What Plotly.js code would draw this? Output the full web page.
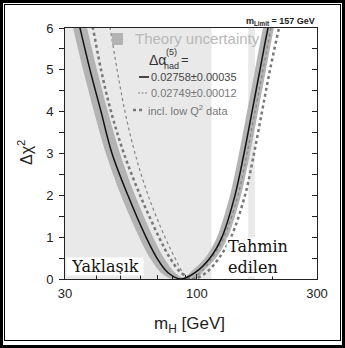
<!DOCTYPE html>
<html>
<head>
<meta charset="utf-8">
<script src="https://cdn.plot.ly/plotly-3.0.1.min.js"></script>
<style>
html,body{margin:0;padding:0;background:#fff;}
#wrap{position:relative;width:345px;height:348px;}
#plot{position:absolute;left:0;top:0;width:345px;height:348px;}
.f1{position:absolute;left:0;top:0;width:339px;height:342px;border:3px solid #000;pointer-events:none;}
.f2{position:absolute;left:4px;top:4px;width:335px;height:335px;border:1px solid #000;pointer-events:none;}
</style>
</head>
<body>
<div id="wrap"><div id="plot"></div><div class="f1"></div><div class="f2"></div></div>
<script>
// Excluded / limit regions (GeV)
const lepExcl = [30, 114.4];
const tevExcl = [160, 170];

// Delta chi^2 levels used for curve readings
const chiLevels = [6.3, 6, 5, 4, 3, 2, 1, 0.5, 0.15, 0, 0.15, 0.5, 1, 2, 3, 4, 5, 6, 6.3];

// Solid: 0.02758±0.00035
const mH_solid = [33.5, 34.4, 37.7, 41.7, 46.1, 53.3, 62.9, 69.5, 76.9, 86.6, 98.4, 112.9, 125.9, 141.8, 154.0, 165.7, 178.2, 191.7, 197.1];
// Dashed: 0.02749±0.00012
const mH_dash = [44.4, 45.3, 48.3, 51.9, 56.9, 64.1, 74.8, 82.0, 88.2, 94.9, 103.0, 114.9, 128.2, 145.8, 158.3, 170.3, 183.2, 197.1, 202.5];
// Dotted: incl. low Q^2 data
const mH_lowQ2 = [37.7, 38.7, 41.7, 45.7, 51.4, 59.6, 70.8, 78.3, 86.6, 96.7, 108.8, 122.5, 136.7, 155.4, 168.7, 181.5, 195.3, 212.0, 217.9];

// Theory uncertainty band edges
const bandOuterM = [31.4, 32.3, 35.4, 39.1, 43.6, 50.0, 59.0, 65.2, 72.1, 79.8, 100.2, 104.9, 119.2, 133.0, 149.8, 162.7, 175.0, 188.3, 202.5, 208.2];
const bandOuterChi = [6.3, 6, 5, 4, 3, 2, 1, 0.5, 0.15, 0, 0, 0.15, 0.5, 1, 2, 3, 4, 5, 6, 6.3];
const bandInnerM = [35.7, 36.7, 40.2, 44.4, 49.6, 56.9, 67.1, 74.1, 82.0, 89.0, 94.0, 107.8, 120.3, 135.5, 147.1, 158.3, 170.3, 183.2, 188.3];
const bandInnerChi = [6.3, 6, 5, 4, 3, 2, 1, 0.5, 0.15, 0.03, 0.15, 0.5, 1, 2, 3, 4, 5, 6, 6.3];

const xTicks = [30, 100, 300];
const xMinor = [40, 50, 60, 70, 80, 90, 200];

const W = 345, H = 348, L = 65, R = 317, T = 28, B = 279;
const px = v => (v - L) / (R - L);
const py = v => (B - v) / (B - T);

const FONT = 'Liberation Sans, Arial, Helvetica, sans-serif';
const SERIF = 'DejaVu Serif, serif';

const rect = (r) => ({x: [r[0], r[0], r[1], r[1]], y: [0, 6, 6, 0], type: 'scatter', mode: 'lines',
  fill: 'toself', fillcolor: '#e9e9e9', line: {width: 0}, hoverinfo: 'skip', showlegend: false});

const traces = [
  rect(lepExcl),
  rect(tevExcl),
  {x: bandOuterM.concat(bandInnerM.slice().reverse()), y: bandOuterChi.concat(bandInnerChi.slice().reverse()),
   type: 'scatter', mode: 'lines', fill: 'toself', fillcolor: '#b3b3b3', line: {width: 0, shape: 'spline', smoothing: 0.8},
   hoverinfo: 'skip', showlegend: false},
  {x: mH_dash, y: chiLevels, type: 'scatter', mode: 'lines', line: {color: '#858585', width: 1.2, dash: 'dot', shape: 'spline', smoothing: 1}, showlegend: false},
  {x: mH_lowQ2, y: chiLevels, type: 'scatter', mode: 'lines', line: {color: '#777', width: 2.5, dash: 'dot', shape: 'spline', smoothing: 1}, showlegend: false},
  {x: mH_solid, y: chiLevels, type: 'scatter', mode: 'lines', line: {color: '#111', width: 1.5, shape: 'spline', smoothing: 1}, showlegend: false},
  {x: [30], y: [null], yaxis: 'y2', type: 'scatter', mode: 'lines', showlegend: false, hoverinfo: 'skip'}
];

const ann = (o) => Object.assign({xref: 'paper', yref: 'paper', showarrow: false}, o);

const layout = {
  width: W, height: H,
  margin: {l: L, r: W - R, t: T, b: H - B},
  paper_bgcolor: '#fff', plot_bgcolor: '#fff',
  font: {family: FONT, color: '#222', size: 13},
  xaxis: {type: 'log', range: [Math.log10(30), Math.log10(300)], tickvals: xTicks, ticktext: xTicks.map(String),
    ticks: 'inside', ticklen: 5, tickcolor: '#222', showline: true, linecolor: '#222', linewidth: 1, mirror: true,
    showgrid: false, zeroline: false, ticklabelstandoff: 2, tickfont: {size: 13, color: '#222'},
    minor: {tickmode: 'array', tickvals: xMinor, ticks: 'inside', ticklen: 4, tickcolor: '#222', showgrid: false}},
  yaxis: {range: [0, 6], dtick: 1, ticks: 'outside', ticklen: 5, tickcolor: '#222', showline: true, linecolor: '#222',
    linewidth: 1, mirror: true, showgrid: false, zeroline: false, ticklabelstandoff: 3, tickfont: {size: 13, color: '#222'},
    minor: {dtick: 0.5, ticks: 'outside', ticklen: 5, tickcolor: '#222', showgrid: false}},
  yaxis2: {range: [0, 6], overlaying: 'y', side: 'right', dtick: 0.5, ticks: 'inside', ticklen: 5, tickcolor: '#222',
    showticklabels: false, showgrid: false, zeroline: false, showline: false},
  shapes: [
    {type: 'rect', xref: 'paper', yref: 'paper', x0: px(112), x1: px(123), y0: py(45), y1: py(33), fillcolor: '#b3b3b3', line: {width: 0}},
    {type: 'line', xref: 'paper', yref: 'paper', x0: px(139), x1: px(149), y0: py(77), y1: py(77), line: {color: '#111', width: 1.5}},
    {type: 'line', xref: 'paper', yref: 'paper', x0: px(138), x1: px(148), y0: py(93), y1: py(93), line: {color: '#858585', width: 1, dash: '2px,1.5px'}},
    {type: 'line', xref: 'paper', yref: 'paper', x0: px(133), x1: px(145), y0: py(110), y1: py(110), line: {color: '#777', width: 2.5, dash: 'dot'}}
  ],
  annotations: [
    ann({x: px(133), y: py(39), xanchor: 'left', yanchor: 'middle', text: 'Theory uncertainty', font: {size: 15, color: '#b8b8b8'}}),
    ann({x: px(147), y: py(60), xanchor: 'left', yanchor: 'middle', text: 'Δα', font: {size: 14, color: '#333'}}),
    ann({x: px(164), y: py(52), xanchor: 'left', yanchor: 'middle', text: '(5)', font: {size: 9, color: '#333'}}),
    ann({x: px(162), y: py(66), xanchor: 'left', yanchor: 'middle', text: 'had', font: {size: 9, color: '#333'}}),
    ann({x: px(179), y: py(59), xanchor: 'left', yanchor: 'middle', text: '=', font: {size: 13, color: '#333'}}),
    ann({x: px(149), y: py(77), xanchor: 'left', yanchor: 'middle', text: '0.02758±0.00035', font: {size: 11, color: '#444'}}),
    ann({x: px(149), y: py(93), xanchor: 'left', yanchor: 'middle', text: '0.02749±0.00012', font: {size: 11, color: '#777'}}),
    ann({x: px(146), y: py(110), xanchor: 'left', yanchor: 'middle', text: 'incl. low Q<sup>2</sup> data', font: {size: 11, color: '#777'}}),
    ann({x: 1, y: py(21), xanchor: 'right', yanchor: 'middle', text: '<b>m<sub>Limit</sub> = 157 GeV</b>', font: {size: 9, color: '#222'}}),
    ann({x: px(105), y: py(266.5), xanchor: 'center', yanchor: 'middle', text: 'Yaklaşık', width: 74, height: 15,
      bgcolor: '#fff', font: {family: SERIF, size: 16, color: '#111'}}),
    ann({x: px(259.5), y: py(257), xanchor: 'center', yanchor: 'middle', text: 'Tahmin<br>edilen', align: 'left', width: 63, height: 36,
      bgcolor: '#fff', font: {family: SERIF, size: 16, color: '#111'}}),
    ann({x: px(25), y: py(153), xanchor: 'center', yanchor: 'middle', textangle: -90, text: 'Δχ<sup>2</sup>', font: {size: 16, color: '#222'}}),
    ann({x: px(189), y: py(325), xanchor: 'center', yanchor: 'middle', text: 'm<sub>H</sub> [GeV]', font: {size: 17, color: '#222'}})
  ]
};

Plotly.newPlot('plot', traces, layout, {staticPlot: true, displayModeBar: false});
</script>
</body>
</html>
